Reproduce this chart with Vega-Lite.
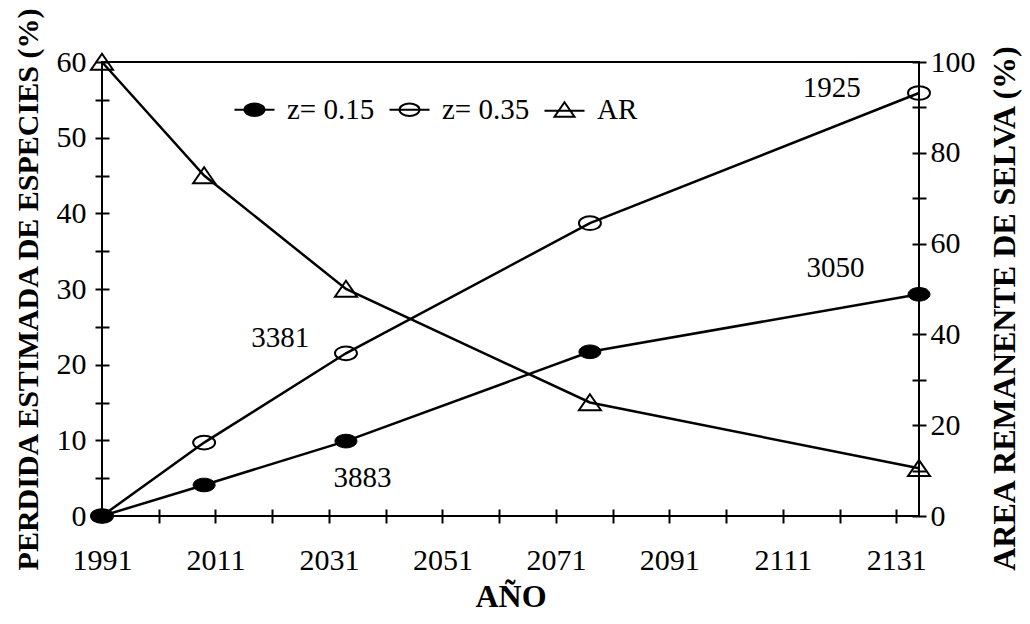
{
  "$schema": "https://vega.github.io/schema/vega-lite/v6.json",
  "width": 817,
  "height": 454,
  "autosize": {"type": "none"},
  "padding": {"left": 102, "top": 62, "right": 111, "bottom": 108},
  "background": "white",
  "datasets": {
    "series": [
      {"year": 1991, "series": "z= 0.15", "value": 0},
      {"year": 2009, "series": "z= 0.15", "value": 4.1},
      {"year": 2034, "series": "z= 0.15", "value": 9.9},
      {"year": 2077, "series": "z= 0.15", "value": 21.7},
      {"year": 2135, "series": "z= 0.15", "value": 29.3},
      {"year": 1991, "series": "z= 0.35", "value": 0},
      {"year": 2009, "series": "z= 0.35", "value": 9.7},
      {"year": 2034, "series": "z= 0.35", "value": 21.5},
      {"year": 2077, "series": "z= 0.35", "value": 38.7},
      {"year": 2135, "series": "z= 0.35", "value": 55.9},
      {"year": 1991, "series": "AR", "value": 100},
      {"year": 2009, "series": "AR", "value": 75},
      {"year": 2034, "series": "AR", "value": 50},
      {"year": 2077, "series": "AR", "value": 25},
      {"year": 2135, "series": "AR", "value": 10.5}
    ],
    "notes": [
      {"year": 2119.6, "value": 56.5, "label": "1925"},
      {"year": 2120.3, "value": 32.8, "label": "3050"},
      {"year": 2022.4, "value": 23.5, "label": "3381"},
      {"year": 2036.9, "value": 5.0, "label": "3883"}
    ]
  },
  "encoding": {
    "x": {
      "field": "year",
      "type": "quantitative",
      "scale": {"domain": [1991, 2135], "nice": false, "zero": false},
      "axis": {
        "title": "AÑO",
        "titleFontSize": 32,
        "titlePadding": 6,
        "values": [1991, 2001, 2011, 2021, 2031, 2041, 2051, 2061, 2071, 2081, 2091, 2101, 2111, 2121, 2131],
        "format": "d",
        "labelExpr": "(datum.value - 1991) % 20 == 0 ? datum.label : ''",
        "labelFlush": false,
        "labelOverlap": false,
        "labelPadding": 22
      }
    }
  },
  "layer": [
    {
      "data": {"name": "series"},
      "transform": [{"filter": "datum.series != 'AR'"}],
      "encoding": {
        "y": {
          "field": "value",
          "type": "quantitative",
          "scale": {"domain": [0, 60], "nice": false, "zero": true},
          "axis": {
            "title": "PERDIDA ESTIMADA DE ESPECIES (%)",
            "values": [0, 5, 10, 15, 20, 25, 30, 35, 40, 45, 50, 55, 60],
            "labelExpr": "datum.value % 10 == 0 ? datum.label : ''",
            "labelFlush": false,
            "labelOverlap": false,
            "labelPadding": 9,
            "titlePadding": 13
          }
        }
      },
      "layer": [
        {
          "mark": {"type": "line", "color": "black", "strokeWidth": 2.5},
          "encoding": {"detail": {"field": "series"}}
        },
        {
          "transform": [{"filter": "datum.series == 'z= 0.35'"}],
          "mark": {
            "type": "point",
            "shape": "M -1 0 A 1 0.62 0 1 1 1 0 A 1 0.62 0 1 1 -1 0 Z",
            "size": 484,
            "filled": false,
            "stroke": "black",
            "strokeWidth": 2,
            "opacity": 1
          }
        },
        {
          "transform": [{"filter": "datum.series == 'z= 0.15'"}],
          "mark": {
            "type": "point",
            "shape": "M -1 0 A 1 0.62 0 1 1 1 0 A 1 0.62 0 1 1 -1 0 Z",
            "size": 484,
            "filled": true,
            "fill": "black",
            "stroke": "black",
            "strokeWidth": 1,
            "opacity": 1
          }
        },
        {
          "data": {"name": "notes"},
          "mark": {"type": "text", "font": "Liberation Serif", "fontSize": 29, "color": "black", "align": "center", "baseline": "middle"},
          "encoding": {"text": {"field": "label"}}
        }
      ]
    },
    {
      "data": {"name": "series"},
      "transform": [{"filter": "datum.series == 'AR'"}],
      "encoding": {
        "y": {
          "field": "value",
          "type": "quantitative",
          "scale": {"domain": [0, 100], "nice": false, "zero": true},
          "axis": {
            "orient": "right",
            "title": "AREA REMANENTE DE SELVA (%)",
            "titleAngle": 270,
            "titleBaseline": "top",
            "titleFontSize": 32,
            "titleY": 246,
            "values": [0, 10, 20, 30, 40, 50, 60, 70, 80, 90, 100],
            "labelExpr": "datum.value % 20 == 0 ? datum.label : ''",
            "labelFlush": false,
            "labelOverlap": false,
            "labelPadding": 4,
            "titlePadding": 14
          }
        }
      },
      "layer": [
        {"mark": {"type": "line", "color": "black", "strokeWidth": 2.5}},
        {
          "mark": {
            "type": "point",
            "shape": "M 0 -0.75 L 1 0.7 L -1 0.7 Z",
            "size": 484,
            "filled": false,
            "stroke": "black",
            "strokeWidth": 2,
            "opacity": 1
          }
        }
      ]
    },
    {
      "data": {"name": "series"},
      "transform": [{"filter": "datum.year < 0"}],
      "mark": {"type": "point", "strokeWidth": 2, "opacity": 1},
      "encoding": {
        "shape": {
          "field": "series",
          "type": "nominal",
          "scale": {
            "domain": ["z= 0.15", "z= 0.35", "AR"],
            "range": [
              "M -2 0 L -1 0 M 1 0 L 2 0 M -1 0 A 1 0.62 0 1 1 1 0 A 1 0.62 0 1 1 -1 0 Z",
              "M -2 0 L 2 0 M -1 0 A 1 0.62 0 1 1 1 0 A 1 0.62 0 1 1 -1 0 Z",
              "M -2 0.1 L 2 0.1 M 0 -0.75 L 1 0.7 L -1 0.7 Z"
            ]
          },
          "legend": {
            "orient": "none",
            "legendX": 138,
            "legendY": 33,
            "direction": "horizontal",
            "title": null,
            "padding": 0,
            "labelFont": "Liberation Serif",
            "labelFontSize": 29,
            "labelColor": "black",
            "symbolSize": 400,
            "symbolStrokeWidth": 2,
            "symbolOpacity": 1,
            "labelOffset": 18,
            "columnPadding": 10
          }
        },
        "fill": {
          "field": "series",
          "type": "nominal",
          "scale": {"domain": ["z= 0.15", "z= 0.35", "AR"], "range": ["black", "transparent", "transparent"]},
          "legend": {
            "orient": "none",
            "legendX": 138,
            "legendY": 33,
            "direction": "horizontal",
            "title": null,
            "padding": 0,
            "labelFont": "Liberation Serif",
            "labelFontSize": 29,
            "labelColor": "black",
            "symbolSize": 400,
            "symbolStrokeWidth": 2,
            "symbolOpacity": 1,
            "labelOffset": 18,
            "columnPadding": 10
          }
        },
        "stroke": {
          "field": "series",
          "type": "nominal",
          "scale": {"domain": ["z= 0.15", "z= 0.35", "AR"], "range": ["black", "black", "black"]},
          "legend": {
            "orient": "none",
            "legendX": 138,
            "legendY": 33,
            "direction": "horizontal",
            "title": null,
            "padding": 0,
            "labelFont": "Liberation Serif",
            "labelFontSize": 29,
            "labelColor": "black",
            "symbolSize": 400,
            "symbolStrokeWidth": 2,
            "symbolOpacity": 1,
            "labelOffset": 18,
            "columnPadding": 10
          }
        }
      }
    }
  ],
  "resolve": {"scale": {"y": "independent"}},
  "config": {
    "font": "Liberation Serif",
    "view": {"stroke": "black", "strokeWidth": 2},
    "axis": {
      "domain": false,
      "grid": false,
      "ticks": true,
      "tickColor": "black",
      "tickWidth": 2,
      "tickSize": 14,
      "offset": -7,
      "labelFont": "Liberation Serif",
      "labelFontSize": 30,
      "labelColor": "black",
      "labelPadding": 6,
      "titleFont": "Liberation Serif",
      "titleFontSize": 30,
      "titleFontWeight": "bold",
      "titleColor": "black"
    }
  }
}
